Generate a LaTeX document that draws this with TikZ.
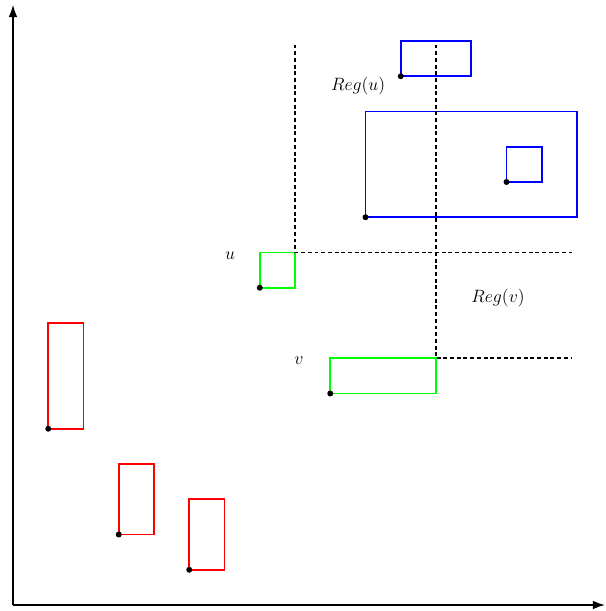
\documentclass[tikz,border=0pt]{standalone}
\usetikzlibrary{arrows.meta}
\definecolor{rrect}{RGB}{255,0,0}
\definecolor{grect}{RGB}{0,255,0}
\definecolor{brect}{RGB}{0,0,255}
\tikzset{
  axis/.style={line width=1.4pt,-{Latex[length=10pt,width=7pt]}},
  box/.style={line width=1.5pt},
  corner/.style={fill=black},
  region/.style={line width=1.4pt,dash pattern=on 3.2pt off 2.2pt},
  lbl/.style={font=\Large,inner sep=0pt}
}
\begin{document}
\begin{tikzpicture}
\useasboundingbox (-0.369,-0.170) rectangle (16.794,17.163);
% axes
\coordinate (O) at (0,0);
\coordinate (xend) at (16.8,0);
\coordinate (yend) at (0,17.03);
\draw[axis] (O) -- (xend);
\draw[axis] (O) -- (yend);
% red rectangles
\draw[box,rrect] (1,5) rectangle (2,8);
\draw[box,rrect] (3,2) rectangle (4,4);
\draw[box,rrect] (5,1) rectangle (6,3);
% green rectangles u and v
\draw[box,grect] (7,9) rectangle (8,10);
\draw[box,grect] (9,6) rectangle (12,7);
% blue rectangles
\draw[box,brect] (11,15) rectangle (13,16);
\draw[box,brect] (10,11) rectangle (16,14);
\draw[box,brect] (14,12) rectangle (15,13);
% region boundaries
\coordinate (uc) at (8,10);
\coordinate (utop) at (8,15.9);
\coordinate (uright) at (15.86,10);
\coordinate (vc) at (12,7);
\coordinate (vtop) at (12,15.9);
\coordinate (vright) at (15.86,7);
\draw[region] (utop) -- (uc) -- (uright);
\draw[region] (vtop) -- (vc) -- (vright);
% lower-left corners
\foreach \p in {(1,5),(3,2),(5,1),(7,9),(9,6),(11,15),(10,11),(14,12)}
  \fill[corner] \p circle (0.085);
% labels
\node[lbl] (lu) at (6.16,9.92) {$u$};
\node[lbl] (lv) at (8.11,6.92) {$v$};
\node[lbl] (lregu) at (9.79,14.72) {$Reg(u)$};
\node[lbl] (lregv) at (13.76,8.72) {$Reg(v)$};
\end{tikzpicture}
\end{document}
